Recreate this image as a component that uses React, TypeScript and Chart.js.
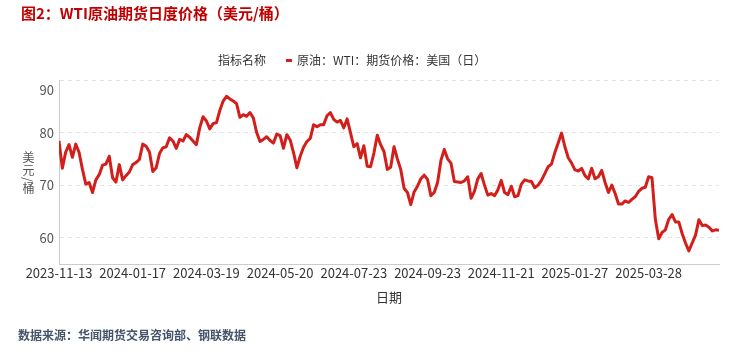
import React, { useEffect, useRef } from 'react';
import { Chart, registerables } from 'chart.js';

Chart.register(...registerables);

const FONT = "'Noto Sans CJK SC', 'Noto Sans', sans-serif";
const RED = '#d21f1b';

const chartTitle = '图2：WTI原油期货日度价格（美元/桶）';
const legendTitle = '指标名称';
const seriesName = '原油：WTI：期货价格：美国（日）';
const yAxisTitle = '美元/桶';
const xAxisTitle = '日期';
const sourceText = '数据来源：华闻期货交易咨询部、钢联数据';

const xTickLabels = [
  '2023-11-13', '2024-01-17', '2024-03-19', '2024-05-20', '2024-07-23',
  '2024-09-23', '2024-11-21', '2025-01-27', '2025-03-28',
];
const xTickIndex = [0, 22, 44, 66, 88, 110, 132, 154, 176];
const yTicks = [60, 70, 80, 90];
const yMin = 55;
const yMax = 90;

// WTI price, one value every two trading days
const wtiPrices = [
  78.4, 73.2, 76.3, 77.7, 75.3, 77.8, 76.2, 73.0, 70.2, 70.5,
  68.6, 71.0, 72.0, 73.8, 74.0, 75.5, 71.4, 70.6, 73.9, 71.0,
  71.8, 72.5, 73.9, 74.3, 74.9, 77.8, 77.4, 76.3, 72.6, 73.3,
  76.0, 77.1, 77.3, 79.0, 78.4, 77.0, 78.7, 78.4, 79.6, 79.1,
  78.4, 77.7, 80.9, 83.0, 82.2, 80.7, 81.7, 81.9, 84.2, 86.0,
  86.9, 86.4, 86.0, 85.5, 82.9, 83.4, 83.1, 83.8, 82.8, 80.0,
  78.3, 78.7, 79.2, 78.5, 78.0, 79.7, 79.4, 77.0, 79.6, 78.6,
  76.2, 73.3, 75.5, 77.2, 78.3, 78.9, 81.5, 81.1, 81.5, 81.5,
  83.2, 83.8, 82.5, 82.0, 82.3, 80.9, 82.6, 80.0, 77.3, 77.9,
  75.2, 77.5, 73.6, 73.5, 76.1, 79.5, 77.7, 76.4, 73.0, 73.4,
  77.3, 75.0, 73.0, 69.4, 68.6, 66.3, 68.7, 69.8, 71.2, 71.9,
  71.1, 68.0, 68.6, 70.5, 74.7, 76.8, 75.0, 74.2, 70.7, 70.6,
  70.5, 70.8, 71.6, 67.5, 68.8, 71.2, 72.2, 70.0, 68.1, 68.4,
  68.0, 69.1, 70.9, 68.6, 68.2, 69.8, 67.8, 68.0, 70.2, 71.0,
  70.8, 70.7, 69.5, 70.0, 70.9, 72.2, 73.5, 74.0, 76.2, 78.0,
  79.9, 77.3, 75.2, 74.2, 72.9, 72.7, 73.2, 71.8, 71.2, 73.2,
  71.2, 71.6, 72.8, 70.5, 68.6, 70.0, 68.4, 66.4, 66.4, 67.0,
  66.7, 67.3, 67.8, 68.8, 69.4, 69.6, 71.6, 71.4, 63.5, 59.8,
  61.0, 61.5, 63.5, 64.4, 63.0, 63.0, 60.8, 59.0, 57.5, 59.0,
  60.5, 63.4, 62.3, 62.4, 62.0, 61.3, 61.5, 61.4,
];

export default function App() {
  const ref = useRef<HTMLCanvasElement>(null);

  useEffect(() => {
    document.body.style.margin = '0';
    Chart.defaults.font.family = FONT;
    const canvas = ref.current;
    if (!canvas) return;
    const chart = new Chart(canvas, {
      type: 'line',
      data: {
        datasets: [
          {
            label: seriesName,
            data: wtiPrices.map((v, i) => ({ x: i, y: v })),
            borderColor: RED,
            backgroundColor: RED,
            borderWidth: 3,
            pointRadius: 0,
            tension: 0,
            fill: false,
            borderJoinStyle: 'round',
          },
        ],
      },
      options: {
        responsive: false,
        animation: false,
        devicePixelRatio: 1,
        layout: { padding: { top: 80, right: 21, bottom: 47, left: 0 } },
        plugins: {
          legend: { display: false },
          tooltip: { enabled: false },
          title: { display: false },
        },
        scales: {
          x: {
            type: 'linear',
            min: 0,
            max: wtiPrices.length - 1,
            grid: { display: false, drawTicks: false },
            border: { display: true, color: '#cccccc', width: 1 },
            afterBuildTicks: (s: any) => {
              s.ticks = xTickIndex.map((v) => ({ value: v }));
            },
            afterFit: (s: any) => {
              s.height = 45;
            },
            ticks: {
              autoSkip: false,
              maxRotation: 0,
              minRotation: 0,
              padding: 1,
              color: '#333333',
              font: { family: FONT, size: 13 },
              callback: (_v: any, i: number) => xTickLabels[i],
            },
            title: {
              display: true,
              text: xAxisTitle,
              color: '#333333',
              font: { family: FONT, size: 13 },
              padding: { top: 0, bottom: 4 },
            },
          },
          y: {
            type: 'linear',
            min: yMin,
            max: yMax,
            afterBuildTicks: (s: any) => {
              s.ticks = yTicks.map((v) => ({ value: v }));
            },
            afterFit: (s: any) => {
              s.width = 59;
            },
            grid: { color: '#e3e3e3', drawTicks: false, lineWidth: 1 },
            border: { display: true, color: '#cccccc', width: 1, dash: [4, 4] },
            ticks: {
              padding: 5,
              color: '#555555',
              font: (ctx: any) => ({
                family: FONT,
                size: 13,
                lineHeight: ctx.tick && ctx.tick.value === yMax ? '20px' : 1.2,
              }),
              callback: (v: any) => (v === yMax ? ['', String(v)] : String(v)),
            },
          },
        },
      },
    } as any);
    return () => chart.destroy();
  }, []);

  return (
    <div
      style={{
        position: 'relative',
        width: 740,
        height: 356,
        background: '#ffffff',
        overflow: 'hidden',
        fontFamily: FONT,
      }}
    >
      <canvas ref={ref} width={740} height={356} style={{ display: 'block' }} />
      <div
        style={{
          position: 'absolute',
          left: 21,
          top: 4,
          fontSize: 15,
          lineHeight: '18px',
          fontWeight: 700,
          color: '#c00000',
          whiteSpace: 'nowrap',
        }}
      >
        {chartTitle}
      </div>
      <div
        style={{
          position: 'absolute',
          left: 218,
          top: 52,
          display: 'flex',
          alignItems: 'center',
          fontSize: 12,
          lineHeight: '16px',
          color: '#333333',
          whiteSpace: 'nowrap',
        }}
      >
        <span>{legendTitle}</span>
        <span
          style={{
            display: 'inline-block',
            width: 6,
            height: 3,
            background: RED,
            marginLeft: 20,
            marginRight: 5,
          }}
        />
        <span>{seriesName}</span>
      </div>
      <div
        style={{
          position: 'absolute',
          left: 22,
          top: 151,
          writingMode: 'vertical-rl',
          fontSize: 12,
          lineHeight: '13px',
          letterSpacing: '1px',
          color: '#555555',
          whiteSpace: 'nowrap',
        }}
      >
        {yAxisTitle}
      </div>
      <div
        style={{
          position: 'absolute',
          left: 18,
          top: 327,
          fontSize: 12,
          lineHeight: '16px',
          fontWeight: 700,
          color: '#44546a',
          whiteSpace: 'nowrap',
        }}
      >
        {sourceText}
      </div>
    </div>
  );
}
